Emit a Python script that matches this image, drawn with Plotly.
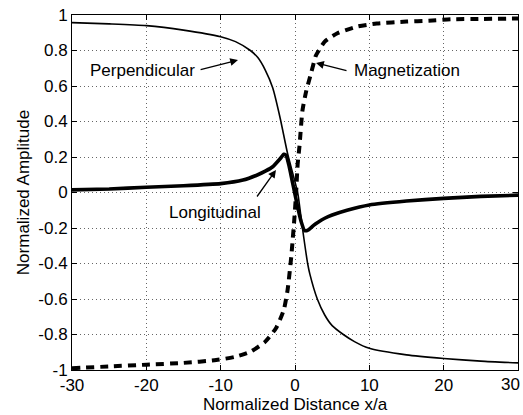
import plotly.graph_objects as go

# Perpendicular component (thin solid)
perp_x = [-30, -25, -20, -15, -10, -8, -6, -5, -4, -3, -2, -1, 0, 0.4, 1, 1.7, 2, 3, 4, 5, 6.5, 8, 10, 15, 20, 25, 30]
perp_y = [0.957, 0.95, 0.94, 0.915, 0.878, 0.85, 0.80, 0.76, 0.69, 0.59, 0.42, 0.22, 0.06, -0.01, -0.2, -0.4, -0.46, -0.6, -0.69, -0.75, -0.8, -0.84, -0.878, -0.915, -0.935, -0.95, -0.96]

# Longitudinal component (thick solid)
long_x = [-30, -25, -20, -15, -10, -7, -5, -4, -3, -2, -1.5, -1.2, -0.8, -0.4, 0, 0.4, 0.8, 1.3, 1.8, 2.5, 3, 4, 5, 7, 10, 15, 20, 25, 30]
long_y = [0.015, 0.02, 0.03, 0.038, 0.05, 0.07, 0.10, 0.12, 0.145, 0.19, 0.215, 0.21, 0.15, 0.07, -0.01, -0.09, -0.16, -0.215, -0.21, -0.185, -0.17, -0.145, -0.127, -0.1, -0.07, -0.048, -0.033, -0.022, -0.015]

# Magnetization (thick dashed)
mag_x = [-30, -25, -20, -15, -10.6, -8, -6, -4, -2.5, -1.5, -1, -0.5, -0.3, -0.1, 0.15, 0.35, 0.6, 1.0, 1.5, 2.15, 2.8, 3.2, 4, 5.7, 8.4, 11, 15, 18, 21, 25, 30]
mag_y = [-0.99, -0.98, -0.97, -0.96, -0.944, -0.925, -0.897, -0.84, -0.76, -0.66, -0.55, -0.36, -0.26, -0.155, 0.0, 0.155, 0.26, 0.46, 0.57, 0.67, 0.77, 0.80, 0.85, 0.897, 0.935, 0.952, 0.963, 0.968, 0.976, 0.978, 0.98]

x_ticks = [-30, -20, -10, 0, 10, 20, 30]
y_ticks = [-1, -0.8, -0.6, -0.4, -0.2, 0, 0.2, 0.4, 0.6, 0.8, 1]
y_tick_labels = ["-1", "-0.8", "-0.6", "-0.4", "-0.2", "0", "0.2", "0.4", "0.6", "0.8", "1"]

FONT = "Liberation Sans, Arial, sans-serif"

fig = go.Figure()
fig.add_trace(go.Scatter(x=perp_x, y=perp_y, mode="lines", line=dict(color="black", width=1.6, shape="spline", smoothing=0.6), name="Perpendicular"))
fig.add_trace(go.Scatter(x=long_x, y=long_y, mode="lines", line=dict(color="black", width=3.6, shape="spline", smoothing=0.5), name="Longitudinal"))
fig.add_trace(go.Scatter(x=mag_x, y=mag_y, mode="lines", line=dict(color="black", width=4, dash="8px,6px", shape="spline", smoothing=0.6), name="Magnetization"))

axis_common = dict(
    showline=True, linecolor="black", linewidth=1, mirror="allticks",
    ticks="inside", ticklen=5, tickcolor="black", tickwidth=1,
    showgrid=True, gridcolor="#666", gridwidth=1, griddash="1px,3px",
    zeroline=False, tickfont=dict(family=FONT, size=17, color="black"),
)

fig.update_xaxes(range=[-30, 30], tickvals=x_ticks, ticktext=[str(v) for v in x_ticks],
                 title=dict(text="Normalized Distance x/a", font=dict(family=FONT, size=17, color="black"), standoff=2),
                 automargin=False, **axis_common)
fig.update_yaxes(range=[-1, 1], tickvals=y_ticks, ticktext=y_tick_labels,
                 title=dict(text="Normalized Amplitude", font=dict(family=FONT, size=17, color="black"), standoff=4),
                 automargin=False, **axis_common)

annots = [
    dict(x=-20.45, y=0.69, text="Perpendicular"),
    dict(x=15.07, y=0.69, text="Magnetization"),
    dict(x=-10.83, y=-0.11, text="Longitudinal"),
]
for a in annots:
    fig.add_annotation(x=a["x"], y=a["y"], xref="x", yref="y", text=a["text"], showarrow=False,
                       font=dict(family=FONT, size=17, color="black"))

# last x tick label, kept fully inside the right edge
fig.add_annotation(x=x_ticks[-1], y=0, xref="x", yref="paper", yanchor="top", yshift=-3,
                   xanchor="right", xshift=4,
                   text=str(x_ticks[-1]), showarrow=False, font=dict(family=FONT, size=17, color="black"))

arrows = [
    dict(x=-7.67, y=0.746, ax=-12.9, ay=0.69),
    dict(x=2.83, y=0.73, ax=7.13, ay=0.684),
    dict(x=-2.56, y=0.127, ax=-5.25, ay=-0.031),
]
for a in arrows:
    fig.add_annotation(x=a["x"], y=a["y"], ax=a["ax"], ay=a["ay"], xref="x", yref="y", axref="x", ayref="y",
                       text="", showarrow=True, arrowhead=2, arrowsize=1.2, arrowwidth=1.3, arrowcolor="black")

fig.update_layout(
    width=523, height=415,
    margin=dict(l=72, r=5, t=15, b=45),
    paper_bgcolor="white", plot_bgcolor="white",
    showlegend=False,
    font=dict(family=FONT, color="black"),
)

fig.write_html("out.html")
